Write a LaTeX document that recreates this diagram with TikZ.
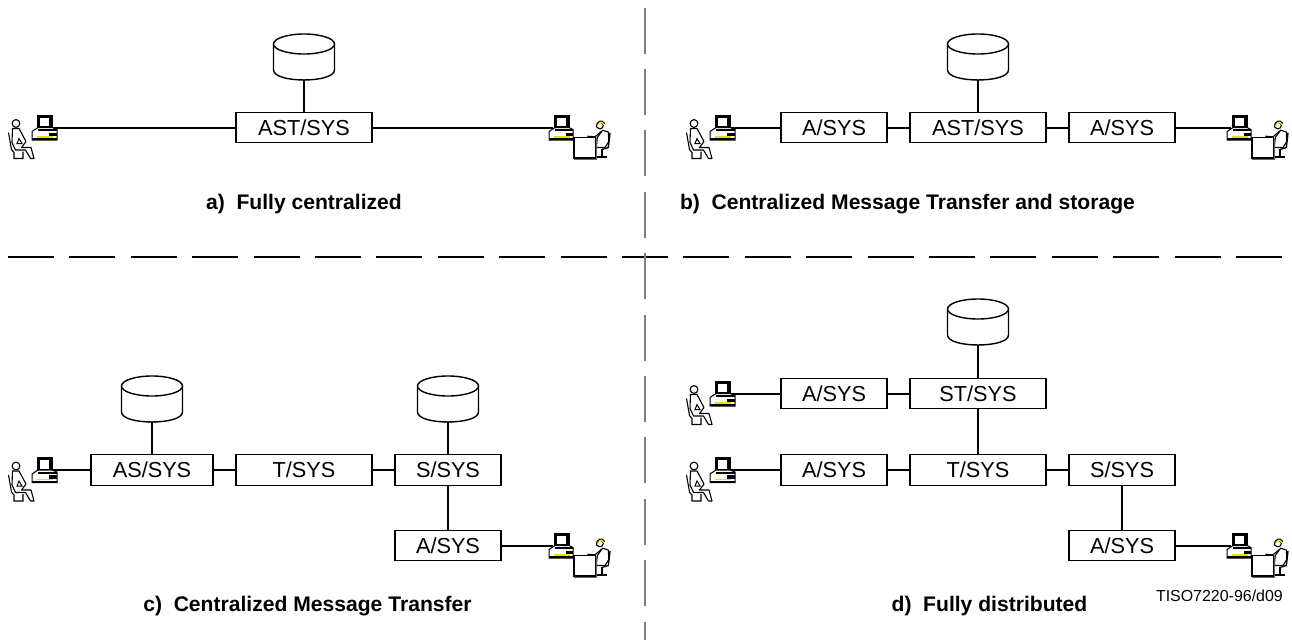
\documentclass[tikz,border=0pt]{standalone}
\usepackage{fontspec}
\setmainfont{Liberation Sans}
\tikzset{
  sysbox/.style={draw=black,line width=1.3pt,fill=white,inner sep=0pt,outer sep=0pt,minimum height=30.5pt,font=\fontsize{21.7}{24}\selectfont},
  narrow/.style={sysbox,minimum width=106pt},
  wide/.style={sysbox,minimum width=136pt},
  midw/.style={sysbox,minimum width=122pt},
  disk/.style={inner sep=0pt,outer sep=0pt,minimum width=61pt,minimum height=46pt},
  link/.style={draw=black,line width=2pt},
  caption/.style={font=\fontsize{21.1}{24}\bfseries\selectfont,inner sep=0pt,anchor=base},
  refcode/.style={font=\fontsize{15.95}{18}\selectfont,inner sep=0pt},
  hdiv/.style={draw=black,line width=1.3pt,dash pattern=on 46pt off 15.4pt},
  vdiv/.style={draw=black!50,line width=2pt,dash pattern=on 46pt off 15.4pt},
  thin ink/.style={draw=black,line width=1.1pt,line join=round,fill=white},
  diskbody/.pic={
    \filldraw[draw=black,line width=1.4pt,fill=white] (-30.5,-13) -- (-30.5,13) .. controls (-30.5,26.3) and (30.5,26.3) .. (30.5,13) -- (30.5,-13);
    \filldraw[draw=black,line width=1.4pt,fill=white] (0,-13) ellipse (30.5 and 10);
  },
  terminal/.pic={
    \fill[black] (-15.3,-13) rectangle (0.7,0.5);
    \fill[white] (-12.3,-10) rectangle (-3,-1.5);
    \filldraw[draw=black,fill=white,line width=1pt] (-20,4) -- (-14,0) -- (0,0) -- (5,2) -- (5,12.5) -- (-20,12.5) -- cycle;
    \fill[black] (-14,1.5) rectangle (5,3.5);
    \fill[black] (-3,5) rectangle (5,8.5);
    \fill[yellow!90!black] (-15.5,8.7) rectangle (1,10.4);
    \fill[black] (-20,10.6) rectangle (5,12.7);
  },
  terminalright/.pic={
    \begin{scope}[xshift=15.8pt]
    \fill[black] (-15.3,-13) rectangle (0.7,0.5);
    \fill[white] (-12.3,-10) rectangle (-3,-1.5);
    \filldraw[draw=black,fill=white,line width=1pt] (-20,4) -- (-14,0) -- (0,0) -- (4,2) -- (4,12.5) -- (-20,12.5) -- cycle;
    \fill[black] (-14,1.5) rectangle (4,3.5);
    \fill[black] (-3,5) rectangle (4,8.5);
    \fill[yellow!90!black] (-15.5,8.7) rectangle (1,10.4);
    \fill[black] (-20,10.6) rectangle (4,12.7);
    \end{scope}
  },
  sitterleft/.pic={
    \draw[thin ink] (-36,-4) circle (3.9);
    \draw[thin ink] (-39.5,1) -- (-33,1) -- (-26,14) -- (-30.5,20) -- (-21,20) -- (-18,31) -- (-21.5,31) -- (-26.5,22.5) -- (-36.5,22.5) -- (-40,15) -- cycle;
    \draw[draw=black,line width=1.1pt] (-43.5,5) -- (-40.5,22) -- (-38,25) -- (-38,31) -- (-29,31) -- (-29,24);
    \draw[draw=black,line width=1pt] (-33,11) -- (-35,16) -- (-30,16) -- cycle;
  },
  sitterright/.pic={
    % chair and legs
    \draw[draw=black,line width=1.4pt] (56.7,5.3) -- (55,20) -- (48.5,22);
    \draw[draw=black,line width=2.2pt] (43.5,29.5) -- (54,29.5);
    \draw[draw=black,line width=1.8pt] (48.3,21) -- (48.3,29);
    % body
    \draw[thin ink] (49.3,2.7) -- (55,4.5) -- (55.5,14) -- (51.7,20) -- (43,20) -- (44,10) -- cycle;
    \draw[draw=black,line width=1.1pt] (48.3,3.7) -- (41.7,9.3) -- (34,8.7);
    % desk
    \filldraw[draw=black,fill=white,line width=1.3pt] (20.7,10) rectangle (42.3,30.5);
    \draw[draw=black!60,line width=1pt] (20.7,31.5) -- (43.3,31.5) -- (43.3,10);
    % head
    \draw[thin ink] (46.7,-2) circle (3.3);
    \draw[draw=yellow!90!black,line width=2pt] (43.5,-1) .. controls (44,-6) and (49,-7) .. (51,-3);
    \draw[draw=black,line width=1pt] (43,0) .. controls (43,-7) and (49,-8.5) .. (51.5,-4);
  }
}
\begin{document}
\begin{tikzpicture}[x=1pt,y=-1pt]
\useasboundingbox (0,0) rectangle (1292,640);
% dividers
\coordinate (hL) at (8,257); \coordinate (hR) at (1284,257);
\coordinate (vT) at (645,7.5); \coordinate (vB) at (645,640);
\draw[hdiv] (hL) -- (hR);
\draw[vdiv] (vT) -- (vB);

% a) Fully centralized
\node[wide] (aC) at (304,127.5) {AST/SYS};
\node[disk] (aD) at (304,57) {};
\pic at (aD) {diskbody};
\coordinate (aPL) at (52,127.5); \coordinate (aPR) at (553.3,127.5);
\draw[link] (aD.south) -- (aC.north);
\draw[link] (aPL) -- (aC.west);
\draw[link] (aC.east) -- (aPR);
\pic at (aPL) {terminal}; \pic at (aPL) {sitterleft};
\pic at (aPR) {terminalright}; \pic at (aPR) {sitterright};
\node[caption] (aT) at (304,209) {a)\hspace{.55em}Fully centralized};

% b) Centralized Message Transfer and storage
\node[narrow] (bA) at (834,127.5) {A/SYS};
\node[wide] (bC) at (978,127.5) {AST/SYS};
\node[narrow] (bB) at (1122,127.5) {A/SYS};
\node[disk] (bD) at (978,57) {};
\pic at (bD) {diskbody};
\coordinate (bPL) at (730,127.5); \coordinate (bPR) at (1231.3,127.5);
\draw[link] (bD.south) -- (bC.north);
\draw[link] (bPL) -- (bA.west);
\draw[link] (bA.east) -- (bC.west);
\draw[link] (bC.east) -- (bB.west);
\draw[link] (bB.east) -- (bPR);
\pic at (bPL) {terminal}; \pic at (bPL) {sitterleft};
\pic at (bPR) {terminalright}; \pic at (bPR) {sitterright};
\node[caption] (bT) at (907.5,209) {b)\hspace{.55em}Centralized Message Transfer and storage};

% c) Centralized Message Transfer
\node[midw] (cA) at (152,470) {AS/SYS};
\node[wide] (cT) at (304,470) {T/SYS};
\node[narrow] (cS) at (448,470) {S/SYS};
\node[narrow] (cB) at (448,545.5) {A/SYS};
\node[disk] (cD1) at (152,399) {};
\node[disk] (cD2) at (448,399) {};
\pic at (cD1) {diskbody};
\pic at (cD2) {diskbody};
\coordinate (cPL) at (52,470); \coordinate (cPR) at (553.3,545.5);
\draw[link] (cD1.south) -- (cA.north);
\draw[link] (cD2.south) -- (cS.north);
\draw[link] (cPL) -- (cA.west);
\draw[link] (cA.east) -- (cT.west);
\draw[link] (cT.east) -- (cS.west);
\draw[link] (cS.south) -- (cB.north);
\draw[link] (cB.east) -- (cPR);
\pic at (cPL) {terminal}; \pic at (cPL) {sitterleft};
\pic at (cPR) {terminalright}; \pic at (cPR) {sitterright};
\node[caption] (cC) at (307.5,611.5) {c)\hspace{.55em}Centralized Message Transfer};

% d) Fully distributed
\node[narrow] (dA1) at (834,393.5) {A/SYS};
\node[wide] (dS1) at (978,393.5) {ST/SYS};
\node[narrow] (dA2) at (834,470) {A/SYS};
\node[wide] (dT) at (978,470) {T/SYS};
\node[narrow] (dS2) at (1122,470) {S/SYS};
\node[narrow] (dB) at (1122,545.5) {A/SYS};
\node[disk] (dD) at (978,322) {};
\pic at (dD) {diskbody};
\coordinate (dP1) at (730,393.5); \coordinate (dP2) at (730,470); \coordinate (dPR) at (1231.3,545.5);
\draw[link] (dD.south) -- (dS1.north);
\draw[link] (dS1.south) -- (dT.north);
\draw[link] (dP1) -- (dA1.west);
\draw[link] (dA1.east) -- (dS1.west);
\draw[link] (dP2) -- (dA2.west);
\draw[link] (dA2.east) -- (dT.west);
\draw[link] (dT.east) -- (dS2.west);
\draw[link] (dS2.south) -- (dB.north);
\draw[link] (dB.east) -- (dPR);
\pic at (dP1) {terminal}; \pic at (dP1) {sitterleft};
\pic at (dP2) {terminal}; \pic at (dP2) {sitterleft};
\pic at (dPR) {terminalright}; \pic at (dPR) {sitterright};
\node[caption] (dC) at (989.5,611.5) {d)\hspace{.55em}Fully distributed};
\node[refcode,anchor=east] (code) at (1283,596) {TISO7220-96/d09};
\end{tikzpicture}
\end{document}
